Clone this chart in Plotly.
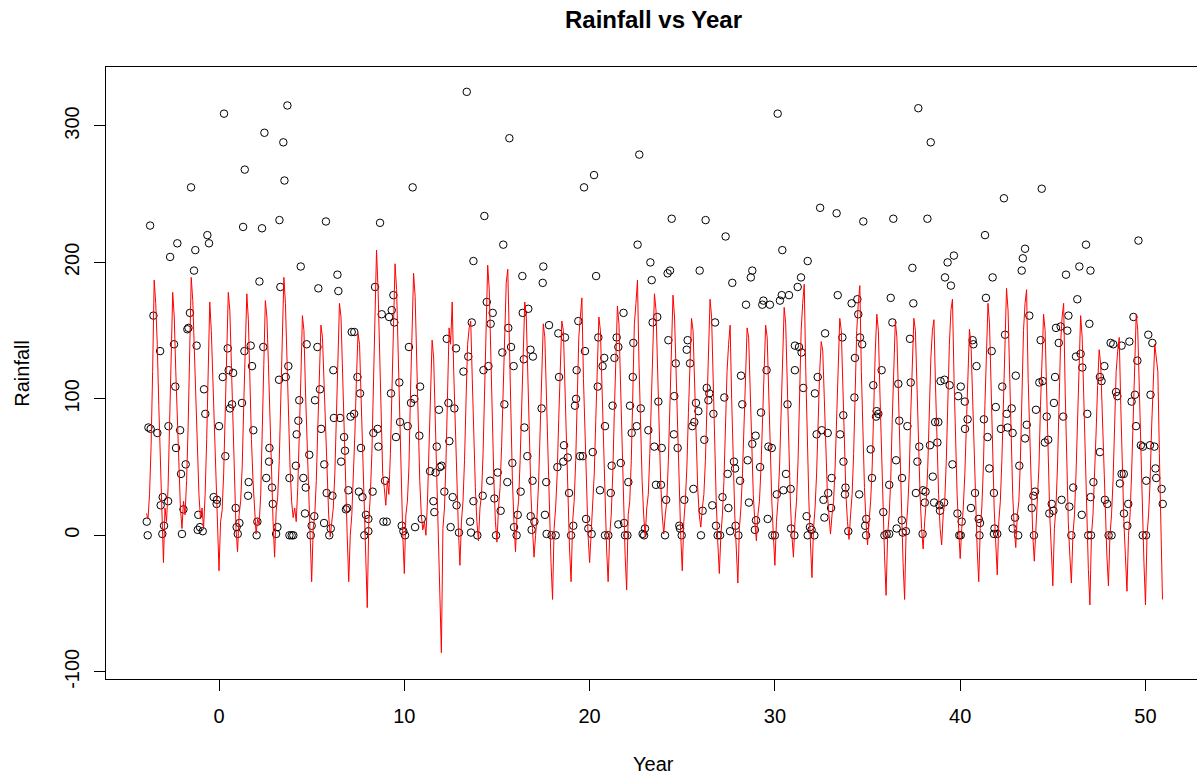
import plotly.graph_objects as go

# ---------------- data ----------------
# observed monthly rainfall (scatter), as (year, rainfall) readings
pts_year = [
    -3.90, -3.85, -3.81, -3.69, -3.72, -3.54, -3.33, -3.18, -3.04, -3.15, -3.06, -2.97, -2.75, -2.73, -2.64, -2.43,
    -2.36, -2.32, -2.25, -2.10, -2.05, -2.00, -1.92, -1.80, -1.71, -1.65, -1.57, -1.51, -1.35, -1.28, -1.21, -1.12,
    -1.15, -1.03, -0.88, -0.81, -0.74, -0.63, -0.54, -0.29, -0.13, -0.11, 0.00, 0.20, 0.27, 0.34, 0.47, 0.52,
    0.59, 0.70, 0.76, 0.90, 0.95, 1.01, 1.10, 1.24, 1.30, 1.39, 1.37, 1.60, 1.57, 1.71, 1.78, 1.85,
    2.07, 2.03, 2.18, 2.32, 2.39, 2.45, 2.55, 2.72, 2.70, 2.86, 2.90, 3.08, 3.15, 3.26, 3.31, 3.24,
    3.47, 3.53, 3.60, 3.69, 3.74, 3.80, 3.80,
    13.37, 10.45, 5.77, 8.69, 13.73, 4.41, 6.39, 5.36, 6.44, 8.42, 8.78, 9.41, 9.32, 9.18, 9.46, 7.16,
    7.30, 4.73, 5.31, 10.25, 12.29, 12.79, 13.45, 13.64, 13.19, 6.17, 7.47, 7.61, 5.45, 9.73, 10.85, 5.18,
    4.33, 10.36, 10.54, 9.28, 12.38, 12.70, 11.87, 4.28, 6.20, 6.53, 7.10, 7.29, 9.77, 10.18, 4.19, 5.51,
    6.75, 8.33, 8.56, 8.60, 9.55, 10.81, 11.75, 12.43, 4.87, 6.80, 7.66, 6.59, 5.68, 4.15, 11.39, 11.69,
    11.92, 12.01, 4.55, 4.68, 8.96, 5.81, 6.12, 6.98, 7.55, 7.74, 8.29, 12.16, 12.61, 12.82, 11.57, 11.62,
    13.73, 4.64, 5.14, 6.85, 6.92, 7.93, 8.06, 5.00, 5.67, 6.03, 8.87, 9.05, 9.86, 10.58, 10.94, 12.50,
    13.55, 4.01, 3.92, 4.95, 5.95, 7.84, 8.06, 9.95, 10.04, 12.95, 13.60,
    15.67, 22.68, 20.24, 19.70, 14.32, 15.34, 22.59, 23.28, 17.50, 16.37, 17.47, 20.35, 23.35, 14.45, 14.77, 14.66,
    16.39, 16.69, 15.61, 15.76, 15.29, 17.81, 18.31, 18.67, 19.39, 20.47, 19.75, 21.46, 21.55, 21.34, 21.83, 23.40,
    23.65, 22.36, 16.81, 16.94, 16.45, 15.90, 14.54, 14.27, 20.79, 20.70, 18.35, 19.30, 20.44, 22.33, 15.40, 17.41,
    19.27, 19.21, 21.24, 22.18, 22.76, 23.71, 16.48, 20.83, 22.54, 22.27, 23.17, 23.49, 18.62, 16.64, 18.82, 18.58,
    19.48, 19.63, 20.17, 15.83, 18.26, 21.19, 21.68, 14.63, 15.56, 16.92, 17.66, 22.09, 23.58, 15.04, 16.28, 18.89,
    20.56, 21.14, 14.23, 14.86, 15.20, 16.12, 16.82, 17.59, 17.02, 19.81, 19.12, 21.55, 21.86, 22.99, 15.92, 16.87,
    19.93, 13.94, 14.95, 16.06, 17.68, 17.95, 18.17, 19.00, 20.11, 20.83, 21.01, 21.91, 22.04, 22.86, 22.94,
    30.15, 32.44, 33.33, 24.43, 26.26, 27.34, 30.40, 31.77, 24.21, 24.34, 25.94, 28.70, 28.78, 27.70, 31.41, 31.23,
    33.39, 28.44, 29.32, 29.38, 29.73, 30.27, 30.37, 30.76, 26.77, 32.71, 33.64, 24.25, 25.29, 25.24, 25.42, 24.65,
    31.08, 31.30, 31.44, 29.55, 31.08, 28.17, 32.31, 31.53, 24.57, 26.32, 26.41, 26.46, 27.27, 25.74, 25.87, 26.68,
    25.54, 25.65, 28.24, 29.25, 30.68, 32.16, 24.55, 26.19, 28.96, 28.78, 29.65, 29.83, 32.25, 32.53, 32.85, 33.52,
    23.89, 24.75, 27.79, 27.45, 27.85, 28.12, 28.53, 29.20, 33.06, 33.70, 23.85, 24.13, 25.11, 25.60, 26.62, 26.10,
    27.17, 27.49, 28.60, 30.10, 30.46, 30.60, 30.85, 32.62, 32.88, 33.03, 29.61, 31.71, 32.67, 24.84, 24.88, 26.82,
    27.88, 28.98, 28.92, 30.87, 31.89, 31.98, 27.58, 24.07, 24.97, 26.01, 26.91, 27.04, 28.03, 29.86, 30.00, 31.05,
    31.77, 32.13,
    37.74, 38.41, 42.36, 34.77, 36.39, 38.23, 41.34, 43.50, 43.38, 43.32, 37.42, 39.66, 39.32, 39.18, 39.50, 41.75,
    36.25, 37.47, 41.39, 34.45, 34.14, 34.50, 36.34, 37.29, 34.59, 34.71, 42.42, 40.67, 40.71, 41.70, 34.32, 35.76,
    40.88, 43.00, 35.31, 36.66, 37.33, 38.94, 39.15, 39.43, 40.03, 42.27, 34.29, 39.89, 40.25, 41.92, 42.51, 42.78,
    33.69, 35.46, 35.58, 35.49, 36.71, 37.15, 38.65, 38.82, 40.40, 41.28, 40.26, 41.48, 42.20, 42.56, 42.83, 43.59,
    43.50, 37.79, 38.37, 38.77, 35.17, 36.54, 37.69, 39.58, 41.57, 43.19, 35.24, 36.86, 38.52, 36.17, 33.81, 33.78,
    34.55, 37.61, 37.99, 38.13, 38.09, 38.59, 38.88, 38.91, 39.13, 40.80, 41.82, 40.58, 35.85, 34.93, 34.87, 36.85,
    39.85, 40.08, 41.00, 41.07, 42.96, 42.83, 36.57, 41.85, 33.96, 34.92, 35.91, 36.03, 36.17, 36.90, 37.07, 37.97,
    39.95, 40.03, 41.04, 41.82, 42.00, 43.13,
    44.40, 46.79, 49.62, 46.43, 45.71, 47.03, 46.32, 43.73, 45.84, 49.35, 46.97, 45.17, 45.42, 45.78, 44.34, 45.32,
    50.15, 50.37, 48.12, 48.26, 48.71, 49.13, 46.25, 46.50, 46.59, 47.78, 49.56, 44.27, 44.45, 45.12, 47.54, 47.63,
    48.41, 48.48, 49.25, 49.43, 50.27, 45.06, 44.09, 44.67, 45.56, 46.86, 49.49, 44.57, 44.75, 47.54, 49.75, 49.86,
    50.24, 50.48, 50.54, 50.58, 50.04, 48.62, 48.71, 48.83, 47.19, 46.10, 50.87, 50.93, 44.04, 43.95, 43.86, 44.94,
    44.81, 45.03, 45.47, 45.89, 47.04, 46.56, 47.81, 47.94, 49.07, 48.84, 49.02, 43.98, 46.00, 46.91, 47.06, 48.01,
    48.17, 49.85, 50.03,
]
pts_rain = [
    10, 0, 79, 78, 227, 161, 75, 135, 28, 22, 1, 7, 25, 80, 204, 140,
    109, 64, 214, 77, 45, 1, 19, 52, 151, 152, 163, 255, 194, 209, 139, 15,
    4, 6, 3, 107, 89, 220, 214, 28, 23, 26, 80, 116, 309, 58, 137, 121,
    93, 96, 119, 20, 6, 1, 9, 97, 226, 268, 135, 39, 29, 139, 124, 77,
    10, 0, 186, 225, 138, 295, 42, 64, 54, 35, 23, 1, 6, 231, 182, 114,
    288, 260, 116, 315, 124, 42, 0,
    325, 255, 230, 229, 201, 197, 191, 181, 179, 182, 162, 176, 165, 160, 156, 149,
    149, 140, 138, 138, 144, 137, 131, 156, 120, 121, 116, 104, 107, 112, 109, 99,
    99, 97, 100, 104, 97, 93, 92, 84, 86, 86, 87, 89, 83, 80, 74, 78,
    72, 75, 78, 65, 72, 73, 65, 69, 59, 62, 64, 54, 52, 51, 47, 46,
    50, 51, 42, 35, 40, 31, 29, 33, 32, 28, 32, 32, 28, 22, 25, 17,
    25, 16, 14, 19, 20, 15, 12, 7, 9, 5, 10, 10, 7, 6, 12, 6,
    10, 0, 0, 0, 0, 0, 3, 3, 0, 2, 2,
    291, 279, 264, 255, 234, 213, 213, 200, 197, 190, 185, 190, 187, 171, 163, 155,
    163, 166, 152, 138, 134, 154, 148, 145, 157, 145, 135, 145, 138, 130, 163, 156,
    160, 141, 136, 131, 129, 124, 124, 121, 130, 124, 116, 121, 109, 116, 96, 93,
    100, 95, 95, 95, 93, 98, 79, 80, 80, 75, 77, 65, 66, 58, 57, 54,
    58, 58, 61, 53, 50, 51, 53, 40, 39, 40, 39, 39, 37, 46, 32, 31,
    33, 31, 29, 27, 18, 15, 14, 15, 10, 12, 7, 8, 9, 5, 6, 4,
    5, 0, 0, 0, 1, 0, 0, 0, 1, 0, 0, 0, 0, 1, 0,
    309, 240, 236, 232, 231, 219, 209, 201, 192, 194, 194, 189, 194, 185, 189, 182,
    176, 169, 169, 172, 169, 172, 176, 176, 156, 148, 145, 143, 143, 136, 126, 126,
    139, 138, 134, 121, 121, 117, 116, 108, 102, 108, 99, 104, 101, 97, 91, 89,
    80, 83, 96, 90, 96, 104, 74, 70, 73, 67, 65, 64, 74, 77, 75, 74,
    64, 64, 54, 45, 49, 40, 55, 50, 42, 54, 37, 26, 26, 34, 22, 18,
    28, 20, 24, 30, 33, 45, 34, 26, 31, 20, 12, 14, 13, 7, 5, 7,
    7, 11, 4, 5, 6, 4, 3, 0, 0, 0, 0, 0, 0, 0, 0, 0,
    0, 0,
    313, 288, 247, 230, 232, 232, 220, 210, 203, 194, 196, 205, 200, 189, 183, 189,
    174, 170, 174, 173, 170, 162, 156, 144, 145, 140, 147, 143, 140, 135, 130, 121,
    124, 117, 110, 111, 112, 113, 114, 110, 109, 109, 101, 102, 98, 94, 89, 93,
    88, 87, 89, 91, 84, 80, 83, 83, 85, 85, 78, 72, 78, 79, 75, 81,
    71, 65, 66, 68, 63, 55, 54, 52, 49, 51, 42, 42, 43, 37, 35, 30,
    30, 31, 33, 32, 24, 24, 22, 18, 24, 31, 31, 20, 17, 12, 7, 11,
    16, 10, 12, 9, 13, 5, 5, 5, 3, 0, 0, 1, 1, 2, 3, 1,
    0, 0, 0, 1, 1, 0,
    254, 213, 216, 197, 191, 194, 173, 161, 161, 160, 155, 152, 153, 150, 143, 141,
    147, 141, 141, 140, 139, 142, 131, 133, 123, 124, 128, 112, 113, 116, 116, 113,
    105, 102, 98, 103, 103, 97, 92, 87, 87, 89, 80, 68, 70, 61, 66, 65,
    66, 65, 49, 42, 40, 38, 45, 45, 39, 35, 34, 23, 32, 29, 20, 23,
    16, 18, 26, 21, 28, 15, 26, 23, 23, 16, 7, 0, 0, 0, 0, 0,
    0, 0, 0,
]

# fitted values (red line), one row per year, monthly from year -4
first_year = -4
fitted_by_year = [
    [16, 12, 30, 65, 120, 187, 170, 140, 95, 55, 18, -20],
    [20, 10, 35, 75, 130, 178, 160, 120, 85, 45, 20, 5],
    [25, 15, 40, 80, 140, 189, 172, 135, 90, 50, 30, 12],
    [20, 5, 30, 70, 125, 171, 150, 118, 80, 40, 8, -26],
    [10, 18, 45, 85, 130, 178, 165, 120, 75, 35, 5, -12],
    [15, 25, 50, 95, 140, 177, 158, 110, 70, 40, 15, 1],
    [12, 8, 30, 70, 125, 172, 160, 125, 80, 42, 10, -16],
    [18, 28, 55, 100, 150, 189, 170, 130, 85, 50, 25, 13],
    [20, 10, 35, 70, 115, 161, 150, 105, 65, 30, 0, -34],
    [5, 15, 40, 80, 120, 154, 145, 110, 70, 35, 15, -1],
    [12, 20, 45, 90, 135, 170, 160, 115, 70, 30, 0, -34],
    [0, 15, 40, 75, 115, 148, 140, 100, 55, 15, -20, -53],
    [10, 30, 60, 110, 170, 209, 180, 130, 85, 45, 35, 22],
    [40, 30, 60, 110, 160, 199, 180, 130, 80, 30, 0, -28],
    [15, 25, 50, 105, 150, 192, 175, 125, 75, 40, 15, 4],
    [10, 0, 25, 60, 100, 143, 130, 90, 45, 0, -40, -86],
    [5, 20, 55, 100, 152, 140, 171, 120, 75, 30, 5, -22],
    [10, 25, 55, 100, 140, 152, 157, 115, 70, 35, 10, -4],
    [20, 30, 60, 110, 160, 198, 180, 130, 80, 40, 10, -5],
    [20, 35, 65, 110, 155, 185, 195, 135, 85, 40, 10, -12],
    [15, 25, 55, 100, 140, 171, 160, 115, 70, 30, 5, -16],
    [0, 15, 40, 80, 120, 155, 145, 100, 55, 10, -20, -47],
    [5, 20, 45, 85, 125, 157, 150, 110, 60, 20, -10, -34],
    [10, 25, 55, 100, 145, 160, 174, 115, 70, 30, 0, -20],
    [5, 20, 45, 85, 130, 160, 150, 105, 60, 20, -10, -34],
    [0, 15, 45, 90, 135, 168, 155, 110, 60, 15, -15, -40],
    [15, 25, 55, 105, 155, 170, 187, 125, 80, 40, 15, -1],
    [20, 30, 60, 105, 150, 177, 165, 120, 75, 40, 15, 1],
    [15, 25, 55, 100, 145, 176, 160, 115, 70, 25, 0, -26],
    [10, 25, 50, 90, 130, 159, 150, 110, 70, 35, 15, 6],
    [20, 30, 55, 100, 145, 173, 160, 110, 65, 25, -5, -28],
    [0, 15, 40, 80, 120, 140, 154, 100, 55, 15, -10, -35],
    [5, 20, 45, 85, 125, 152, 145, 105, 65, 30, 10, -4],
    [15, 25, 50, 90, 130, 154, 145, 100, 60, 25, 0, -22],
    [10, 25, 50, 95, 140, 167, 155, 110, 65, 25, 0, -16],
    [10, 25, 55, 105, 150, 170, 184, 120, 70, 25, -5, -31],
    [5, 20, 45, 85, 120, 142, 135, 100, 65, 30, 15, 1],
    [15, 25, 50, 90, 130, 159, 150, 110, 65, 30, 10, -3],
    [15, 30, 60, 105, 150, 170, 183, 120, 75, 35, 10, -7],
    [10, 25, 50, 95, 135, 162, 150, 105, 60, 15, -15, -44],
    [0, 15, 40, 85, 125, 157, 145, 100, 55, 10, -20, -47],
    [5, 20, 45, 90, 130, 159, 150, 110, 65, 30, 5, -10],
    [10, 25, 50, 90, 130, 150, 158, 110, 65, 30, 5, -7],
    [15, 25, 55, 100, 140, 165, 173, 115, 70, 30, 5, -17],
    [5, 20, 45, 85, 125, 151, 140, 100, 55, 15, -10, -34],
    [5, 20, 50, 95, 140, 170, 155, 110, 60, 20, -5, -29],
    [10, 25, 55, 100, 150, 181, 165, 120, 70, 30, 5, -9],
    [15, 25, 55, 105, 150, 170, 180, 115, 70, 25, 0, -19],
    [5, 20, 50, 95, 135, 162, 150, 105, 55, 15, -10, -37],
    [5, 20, 50, 95, 140, 160, 170, 105, 55, 10, -15, -35],
    [0, 15, 45, 90, 130, 161, 145, 100, 50, 5, -25, -51],
    [0, 15, 40, 75, 110, 136, 125, 90, 45, 5, -15, -37],
    [0, 15, 40, 80, 120, 135, 145, 95, 50, 10, -15, -41],
    [0, 15, 45, 90, 130, 162, 150, 105, 55, 10, -20, -51],
    [0, 15, 40, 80, 115, 140, 130, 120, 60, 15, -47],
]

x_ticks = [0, 10, 20, 30, 40, 50]
y_ticks = [-100, 0, 100, 200, 300]

# ---------------- build the figure ----------------
fit_x, fit_y = [], []
for k, row in enumerate(fitted_by_year):
    for m, v in enumerate(row):
        fit_x.append(first_year + k + (m + 1) / 12.0)
        fit_y.append(v)

FONT = "Liberation Sans, Arial, sans-serif"

fig = go.Figure()
fig.add_trace(go.Scatter(
    x=pts_year, y=pts_rain, mode="markers",
    marker=dict(symbol="circle-open", size=7.5, color="black", line=dict(width=1, color="black")),
    showlegend=False, hoverinfo="skip",
))
fig.add_trace(go.Scatter(
    x=fit_x, y=fit_y, mode="lines",
    line=dict(color="red", width=1),
    showlegend=False, hoverinfo="skip",
))

# the page body margin is removed (post_script), so the figure fills the window
W, H = 1197, 779
L, R, T, B = 106, 0, 67, 100
pw, ph = W - L - R, H - T - B

def px_x(px):
    return (px - L) / pw

def px_y(py):
    return (H - B - py) / ph

fig.update_layout(
    width=W, height=H,
    margin=dict(l=L, r=R, t=T, b=B, pad=0),
    paper_bgcolor="white", plot_bgcolor="white",
    font=dict(family=FONT, size=20, color="black"),
    xaxis=dict(
        range=[-6.10, 52.78], tickvals=x_ticks, ticktext=[str(v) for v in x_ticks],
        showgrid=False, zeroline=False, showline=True, mirror=True,
        linecolor="black", linewidth=1, ticks="outside", ticklen=11, tickwidth=1,
        tickcolor="black", ticklabelstandoff=8, tickfont=dict(size=20),
    ),
    yaxis=dict(
        range=[-105.3, 343.2], tickvals=y_ticks, ticktext=[str(v) for v in y_ticks],
        showgrid=False, zeroline=False, showline=True, mirror=False,
        linecolor="black", linewidth=1, ticks="outside", ticklen=11, tickwidth=1,
        tickcolor="black", tickangle=-90, ticklabelstandoff=7, tickfont=dict(size=20),
    ),
    annotations=[
        dict(text="<b>Rainfall vs Year</b>", xref="paper", yref="paper",
             x=px_x(653.5), y=px_y(19), xanchor="center", yanchor="middle",
             showarrow=False, font=dict(size=24, family=FONT, color="black")),
        dict(text="Year", xref="paper", yref="paper",
             x=px_x(653.7), y=px_y(764), xanchor="center", yanchor="middle",
             showarrow=False, font=dict(size=20, family=FONT, color="black")),
        dict(text="Rainfall", xref="paper", yref="paper",
             x=px_x(21.7), y=px_y(373), xanchor="center", yanchor="middle",
             textangle=-90, showarrow=False, font=dict(size=20, family=FONT, color="black")),
    ],
)

fig.write_html(
    "out.html",
    config={"displayModeBar": False, "staticPlot": True},
    post_script="document.body.style.margin='0px';document.body.style.overflow='hidden';",
)
